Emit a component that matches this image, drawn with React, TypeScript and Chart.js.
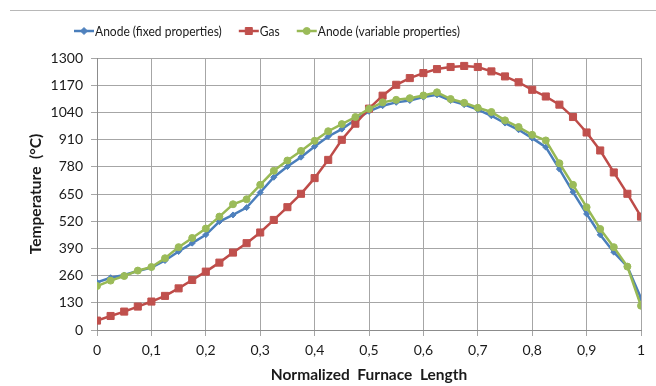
import React, { useEffect, useRef } from "react";
import { Chart, registerables } from "chart.js";

Chart.register(...registerables);

const positions = [
  0, 0.025, 0.05, 0.075, 0.1, 0.125, 0.15, 0.175, 0.2, 0.225,
  0.25, 0.275, 0.3, 0.325, 0.35, 0.375, 0.4, 0.425, 0.45, 0.475,
  0.5, 0.525, 0.55, 0.575, 0.6, 0.625, 0.65, 0.675, 0.7, 0.725,
  0.75, 0.775, 0.8, 0.825, 0.85, 0.875, 0.9, 0.925, 0.95, 0.975, 1,
];

const anodeFixed = [
  228, 250, 263, 282, 298, 332, 375, 415, 455, 518,
  550, 585, 657, 730, 781, 826, 877, 925, 960, 1005,
  1045, 1072, 1088, 1097, 1113, 1124, 1097, 1077, 1053, 1024,
  989, 957, 917, 874, 769, 659, 555, 455, 372, 303, 152,
];

const gas = [
  45, 67, 88, 112, 136, 163, 199, 239, 279, 322,
  370, 415, 466, 526, 587, 651, 726, 813, 909, 986,
  1058, 1120, 1172, 1204, 1228, 1247, 1257, 1262, 1257, 1236,
  1212, 1184, 1148, 1116, 1077, 1018, 944, 858, 753, 651, 542,
];

const anodeVariable = [
  210, 236, 258, 284, 301, 343, 396, 440, 485, 542,
  601, 625, 694, 761, 810, 856, 904, 950, 984, 1018,
  1057, 1088, 1100, 1108, 1121, 1136, 1104, 1086, 1062, 1042,
  1002, 970, 933, 906, 797, 694, 587, 483, 396, 303, 116,
];

const seriesNames = ["Anode (fixed properties)", "Gas", "Anode (variable properties)"];
const xTickLabels = ["0", "0,1", "0,2", "0,3", "0,4", "0,5", "0,6", "0,7", "0,8", "0,9", "1"];
const yTickLabels = ["0", "130", "260", "390", "520", "650", "780", "910", "1040", "1170", "1300"];

const FONT = "Lato, 'Open Sans', sans-serif";

const decorPlugin = {
  id: "decor",
  afterDraw(chart: any) {
    const ctx = chart.ctx as CanvasRenderingContext2D;
    ctx.save();
    // top frame line
    ctx.strokeStyle = "#b8b8b8";
    ctx.lineWidth = 1;
    ctx.beginPath();
    ctx.moveTo(10, 10.5);
    ctx.lineTo(chart.width, 10.5);
    ctx.stroke();

    // legend
    ctx.font = `14px ${FONT}`;
    ctx.textBaseline = "middle";
    ctx.textAlign = "left";
    const squeeze = 0.86;
    let x = 74;
    const y = 31;
    chart.data.datasets.forEach((ds: any, i: number) => {
      ctx.strokeStyle = ds.borderColor;
      ctx.lineWidth = 2.5;
      ctx.beginPath();
      ctx.moveTo(x, y);
      ctx.lineTo(x + 20, y);
      ctx.stroke();
      const cx = x + 10;
      ctx.fillStyle = ds.pointBackgroundColor;
      ctx.strokeStyle = ds.pointBorderColor;
      ctx.lineWidth = 1;
      ctx.beginPath();
      if (ds.pointStyle === "rect") {
        ctx.rect(cx - 3.5, y - 3.5, 7, 7);
      } else if (ds.pointStyle === "rectRot") {
        ctx.moveTo(cx, y - 3.5);
        ctx.lineTo(cx + 3.5, y);
        ctx.lineTo(cx, y + 3.5);
        ctx.lineTo(cx - 3.5, y);
        ctx.closePath();
      } else {
        ctx.arc(cx, y, 3.5, 0, Math.PI * 2);
      }
      ctx.fill();
      ctx.stroke();
      ctx.fillStyle = "#1a1a1a";
      const label = seriesNames[i];
      const w = ctx.measureText(label).width * squeeze;
      ctx.save();
      ctx.translate(x + 21, y);
      ctx.scale(squeeze, 1);
      ctx.fillText(label, 0, 0);
      ctx.restore();
      x += 21 + w + 17;
    });
    ctx.restore();
  },
};

export default function App() {
  const ref = useRef<HTMLCanvasElement | null>(null);

  useEffect(() => {
    document.body.style.margin = "0";
    if (!ref.current) return;
    const mk = (ys: number[]) => positions.map((p, i) => ({ x: p, y: ys[i] }));
    const chart = new Chart(ref.current, {
      type: "line",
      data: {
        datasets: [
          {
            label: seriesNames[0],
            data: mk(anodeFixed),
            borderColor: "#4a7ebb",
            backgroundColor: "#4f81bd",
            pointBackgroundColor: "#4f81bd",
            pointBorderColor: "#4f81bd",
            pointStyle: "rectRot",
            pointRadius: 3,
            pointBorderWidth: 1,
            borderWidth: 2.5,
            order: 2,
          } as any,
          {
            label: seriesNames[1],
            data: mk(gas),
            borderColor: "#be4b48",
            backgroundColor: "#c0504d",
            pointBackgroundColor: "#c0504d",
            pointBorderColor: "#c0504d",
            pointStyle: "rect",
            pointRadius: 5,
            pointBorderWidth: 1,
            borderWidth: 2.5,
            order: 1,
          } as any,
          {
            label: seriesNames[2],
            data: mk(anodeVariable),
            borderColor: "#98b954",
            backgroundColor: "#9bbb59",
            pointBackgroundColor: "#9bbb59",
            pointBorderColor: "#9bbb59",
            pointStyle: "circle",
            pointRadius: 3.5,
            pointBorderWidth: 1,
            borderWidth: 2.5,
            order: 0,
          } as any,
        ],
      },
      options: {
        responsive: false,
        animation: false,
        layout: { padding: { top: 58, right: 15, left: 0, bottom: 0 } },
        plugins: {
          legend: { display: false },
          tooltip: { enabled: false },
        },
        scales: {
          x: {
            type: "linear",
            min: 0,
            max: 1,
            ticks: {
              stepSize: 0.1,
              autoSkip: false,
              maxRotation: 0,
              padding: 6,
              color: "#1a1a1a",
              font: { family: FONT, size: 14 },
              callback: (_v: any, i: number) => xTickLabels[i],
            },
            grid: { color: "#a6a6a6", tickLength: 6, lineWidth: 1 },
            border: { color: "#8c8c8c" },
            title: {
              display: true,
              text: "Normalized  Furnace  Length",
              color: "#1a1a1a",
              font: { family: FONT, size: 15.5, weight: "bold" },
              padding: { top: 0, bottom: 2 },
            },
            afterFit: (s: any) => {
              s.height = 56;
            },
          },
          y: {
            min: 0,
            max: 1300,
            ticks: {
              stepSize: 130,
              autoSkip: false,
              padding: 8,
              color: "#1a1a1a",
              font: { family: FONT, size: 14 },
              callback: (_v: any, i: number) => yTickLabels[i],
            },
            grid: { color: "#a6a6a6", tickLength: 6, lineWidth: 1 },
            border: { color: "#8c8c8c" },
            title: {
              display: true,
              text: "Temperature  (°C)",
              color: "#1a1a1a",
              font: { family: FONT, size: 15.5, weight: "bold" },
              padding: { top: 27, bottom: 0 },
            },
            afterFit: (s: any) => {
              s.width = 97;
            },
          },
        },
      },
      plugins: [decorPlugin],
    } as any);
    return () => chart.destroy();
  }, []);

  return <canvas ref={ref} width={656} height={386} style={{ display: "block" }} />;
}
